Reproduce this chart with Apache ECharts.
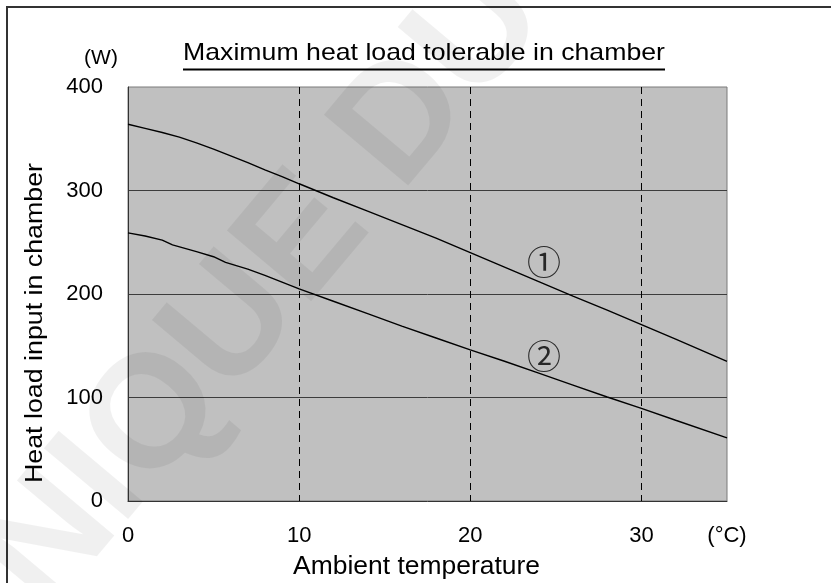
<!DOCTYPE html>
<html>
<head>
<meta charset="utf-8">
<script src="https://cdn.jsdelivr.net/npm/echarts@6/dist/echarts.min.js"></script>
<style>
  html, body { margin: 0; padding: 0; background: #fff; }
  #chart { width: 831px; height: 583px; }
</style>
</head>
<body>
<div id="chart"></div>
<script>
// Ambient temperature (°C) and tolerable heat load (W) for the two curves
const tempC1 = [0, 1, 2, 3, 4, 5, 6, 7, 8, 9, 10, 12, 14, 16, 18, 20, 22, 24, 26, 28, 30, 32, 35];
const load1  = [364, 360, 356, 351.5, 346, 340, 333.5, 327, 320, 313.5, 306.5, 293, 280, 267, 254, 240, 226, 212, 198, 184.5, 170.5, 156.5, 135];
const tempC2 = [0, 1, 2, 2.6, 4, 5, 5.7, 7, 8, 9, 10, 12, 14, 16, 18, 20, 22, 24, 26, 28, 30, 32, 35];
const load2  = [259, 256, 252, 247.5, 241, 236, 230.5, 224, 218, 211.5, 205, 193, 181, 169, 157.5, 146, 135, 123.5, 112, 100.5, 89.5, 78, 61];

// Curve markers
const curveTags = ['①', '②'];
const tagTemp = [24.3, 24.3];
const tagLoad = [231, 140];

// Axis ranges and texts
const xMin = 0, xMax = 35, xStep = 10;
const yMin = 0, yMax = 400, yStep = 100;
const xUnit = '(°C)';
const yUnit = '(W)';
const titleText = 'Maximum heat load tolerable in chamber';
const xName = 'Ambient temperature';
const yName = 'Heat load input in chamber';
const watermark = 'UNIQUE DU';

const FONT = '"Liberation Sans", Arial, sans-serif';

// horizontal stretch so a text spans a given width
const measureCtx = document.createElement('canvas').getContext('2d');
function stretch(text, size, target) {
  measureCtx.font = size + 'px ' + FONT;
  return target / measureCtx.measureText(text).width;
}

const pairs = (xs, ys) => xs.map((x, i) => [x, ys[i]]);

const chart = echarts.init(document.getElementById('chart'), null, { renderer: 'canvas' });

const titleSize = 24, yNameSize = 23, xNameSize = 25;
const titleScale = stretch(titleText, titleSize, 482);
const yNameScale = stretch(yName, yNameSize, 320);
const xNameScale = stretch(xName, xNameSize, 247);

chart.setOption({
  animation: false,
  backgroundColor: '#ffffff',
  grid: {
    left: 128, right: 104, top: 87, bottom: 82,
    show: true,
    backgroundColor: '#c0c0c0',
    borderColor: '#7a7a7a',
    borderWidth: 1
  },
  xAxis: {
    type: 'value',
    min: xMin, max: xMax, interval: xStep,
    axisLine: { show: true, lineStyle: { color: '#333', width: 1 } },
    axisTick: { show: false },
    axisLabel: {
      show: true, margin: 24, showMaxLabel: true,
      color: '#000', fontFamily: FONT, fontSize: 22,
      formatter: v => (v === xMax ? xUnit : String(v))
    },
    splitLine: {
      show: true, showMinLine: false, showMaxLine: false,
      lineStyle: { color: '#000', width: 1, type: [7, 5] }
    }
  },
  yAxis: {
    type: 'value',
    min: yMin, max: yMax, interval: yStep,
    axisLine: { show: true, lineStyle: { color: '#333', width: 1 } },
    axisTick: { show: false },
    axisLabel: { margin: 25, color: '#000', fontFamily: FONT, fontSize: 22 },
    splitLine: {
      show: true, showMinLine: false, showMaxLine: false,
      lineStyle: { color: '#3c3c3c', width: 1 }
    }
  },
  series: [
    {
      type: 'line', data: pairs(tempC1, load1), showSymbol: false, symbol: 'none',
      lineStyle: { color: '#000', width: 1.4 }, silent: true
    },
    {
      type: 'line', data: pairs(tempC2, load2), showSymbol: false, symbol: 'none',
      lineStyle: { color: '#000', width: 1.4 }, silent: true
    },
    {
      type: 'scatter', silent: true, symbolSize: 1,
      itemStyle: { color: 'rgba(0,0,0,0)' },
      data: curveTags.map((t, i) => ({ name: t, value: [tagTemp[i], tagLoad[i]] })),
      label: {
        show: true, position: 'inside', formatter: '{b}',
        color: '#000', fontSize: 34, fontFamily: '"Noto Sans CJK JP", sans-serif'
      }
    }
  ],
  graphic: [
    // outer frame
    { type: 'rect', shape: { x: 7, y: 7, width: 860, height: 640 },
      style: { fill: null, stroke: '#333', lineWidth: 2 }, silent: true, z: 1 },
    // title with underline
    { type: 'text', x: 424, y: 53, scaleX: titleScale, silent: true,
      style: { text: titleText, font: titleSize + 'px ' + FONT, fill: '#000',
               textAlign: 'center', textVerticalAlign: 'middle' } },
    { type: 'line', shape: { x1: 183, y1: 69.5, x2: 665, y2: 69.5 },
      style: { stroke: '#000', lineWidth: 2 }, silent: true },
    // unit of the vertical axis
    { type: 'text', x: 101, y: 58, silent: true,
      style: { text: yUnit, font: '21px ' + FONT, fill: '#000',
               textAlign: 'center', textVerticalAlign: 'middle' } },
    // axis names
    { type: 'text', x: 36, y: 323, rotation: Math.PI / 2, scaleX: yNameScale, silent: true,
      style: { text: yName, font: yNameSize + 'px ' + FONT, fill: '#000',
               textAlign: 'center', textVerticalAlign: 'middle' } },
    { type: 'text', x: 416.5, y: 567, scaleX: xNameScale, silent: true,
      style: { text: xName, font: xNameSize + 'px ' + FONT, fill: '#000',
               textAlign: 'center', textVerticalAlign: 'middle' } },
    // faint diagonal watermark
    { type: 'text', x: -61, y: 676, rotation: 50 * Math.PI / 180, silent: true, z: 100,
      style: { text: watermark, font: 'bold 160px ' + FONT, fill: 'rgba(0,0,0,0.06)',
               textAlign: 'left', textVerticalAlign: 'middle' } }
  ]
});
</script>
</body>
</html>
